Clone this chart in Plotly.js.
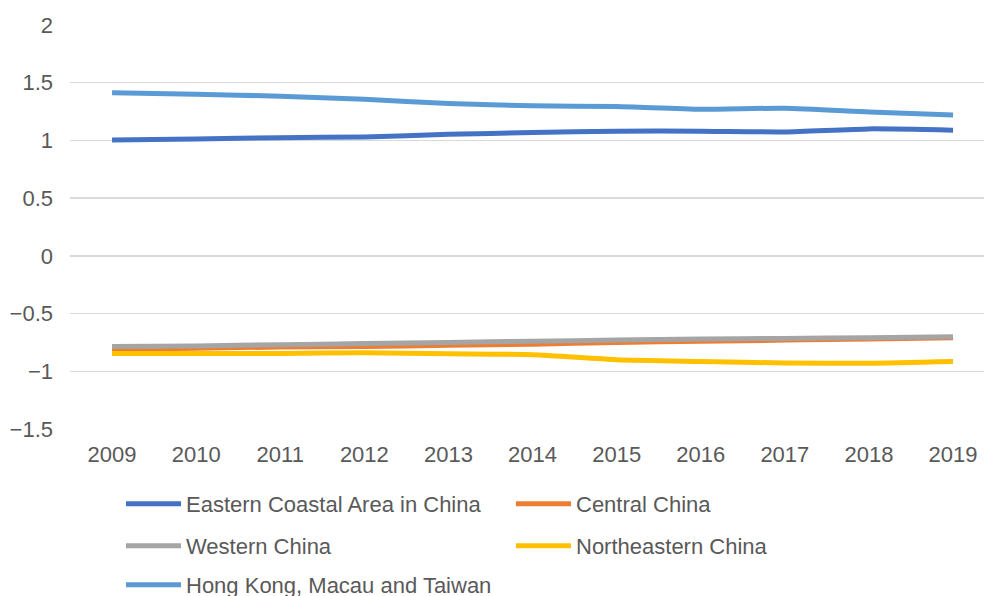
<!DOCTYPE html>
<html>
<head>
<meta charset="utf-8">
<script src="https://cdn.plot.ly/plotly-3.0.1.min.js"></script>
<style>html,body{margin:0;padding:0;background:#fff;}#chart{width:984px;height:596px;}</style>
</head>
<body>
<div id="chart"></div>
<script>
const years = ['2009','2010','2011','2012','2013','2014','2015','2016','2017','2018','2019'];
const eastern = [1.004, 1.013, 1.024, 1.030, 1.053, 1.068, 1.080, 1.080, 1.074, 1.100, 1.088];
const central = [-0.810, -0.800, -0.790, -0.785, -0.775, -0.765, -0.750, -0.740, -0.730, -0.720, -0.710];
const western = [-0.785, -0.780, -0.770, -0.760, -0.750, -0.740, -0.730, -0.720, -0.715, -0.710, -0.700];
const northeastern = [-0.845, -0.845, -0.845, -0.840, -0.848, -0.857, -0.900, -0.915, -0.928, -0.930, -0.915];
const hkMacauTaiwan = [1.414, 1.400, 1.383, 1.357, 1.320, 1.300, 1.293, 1.270, 1.279, 1.247, 1.220];

const names = ['Eastern Coastal Area in China','Central China','Western China','Northeastern China','Hong Kong, Macau and Taiwan'];
const series = [eastern, central, western, northeastern, hkMacauTaiwan];
const colors = ['#4472C4','#ED7D31','#A5A5A5','#FFC000','#5B9BD5'];
const legendIds = ['legend','legend','legend2','legend2','legend3'];

const traces = series.map((vals, i) => ({
  type: 'scatter', mode: 'lines', x: years, y: vals, name: names[i],
  line: {color: colors[i], width: 5, shape: 'spline', smoothing: 0.6},
  legend: legendIds[i], hoverinfo: 'skip'
}));

const font = {family: '"Liberation Sans", Arial, sans-serif', size: 22, color: '#595959'};
const legendBase = {
  orientation: 'h', xref: 'container', yref: 'container', xanchor: 'left', yanchor: 'middle',
  font: font, entrywidth: 320, entrywidthmode: 'pixels', itemwidth: 55, bgcolor: 'rgba(0,0,0,0)',
  borderwidth: 0, itemclick: false, itemdoubleclick: false
};

const layout = {
  width: 984, height: 596,
  margin: {l: 70, r: 0, t: 25, b: 167},
  paper_bgcolor: '#ffffff', plot_bgcolor: '#ffffff',
  font: font,
  showlegend: true,
  xaxis: {
    type: 'category', range: [-0.5, 10.368], showgrid: false, zeroline: false,
    showline: false, ticks: '', tickfont: font, ticklabelstandoff: 10, fixedrange: true
  },
  yaxis: {
    range: [-1.5, 2], dtick: 0.5, tick0: 0, showgrid: true, gridcolor: '#D9D9D9', gridwidth: 1.5,
    zeroline: false, showline: false, ticks: '', tickfont: font, ticklabelstandoff: 16, fixedrange: true
  },
  legend: Object.assign({}, legendBase, {x: 121/984, y: 1 - 504/596}),
  legend2: Object.assign({}, legendBase, {x: 121/984, y: 1 - 546/596}),
  legend3: Object.assign({}, legendBase, {x: 121/984, y: 1 - 585/596})
};

Plotly.newPlot('chart', traces, layout, {displayModeBar: false, staticPlot: true});
</script>
</body>
</html>
